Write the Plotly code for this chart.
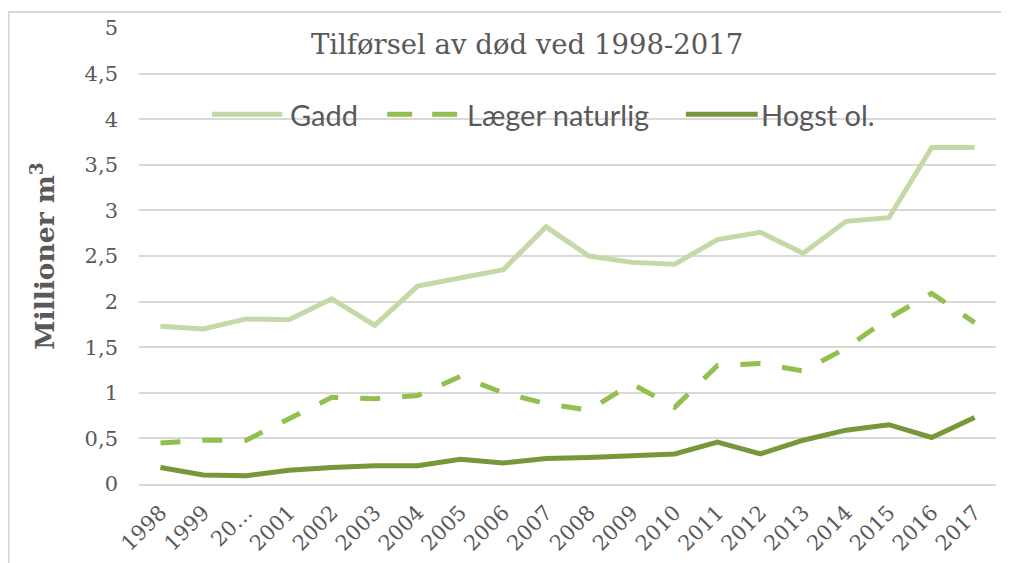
import plotly.graph_objects as go

years = ["1998", "1999", "20…", "2001", "2002", "2003", "2004", "2005", "2006", "2007",
         "2008", "2009", "2010", "2011", "2012", "2013", "2014", "2015", "2016", "2017"]

gadd = [1.73, 1.70, 1.81, 1.80, 2.03, 1.74, 2.17, 2.26, 2.35, 2.82,
        2.50, 2.43, 2.41, 2.68, 2.76, 2.53, 2.88, 2.92, 3.69, 3.69]

laeger = [0.45, 0.48, 0.48, 0.71, 0.95, 0.935, 0.97, 1.18, 1.00, 0.88,
          0.81, 1.10, 0.84, 1.30, 1.32, 1.24, 1.49, 1.82, 2.09, 1.77]

hogst = [0.18, 0.10, 0.09, 0.15, 0.18, 0.20, 0.20, 0.27, 0.23, 0.28,
         0.29, 0.31, 0.33, 0.46, 0.33, 0.48, 0.59, 0.65, 0.51, 0.73]

series_names = ["Gadd", "Læger naturlig", "Hogst ol."]
colors = ["#c4d9a6", "#92bf4f", "#76983b"]
dashes = ["solid", "20px,22px", "solid"]

SERIF = "DejaVu Serif"
SANS = "Lato"
TXT = "#595959"
GRID = "#d9d9d9"

fig = go.Figure()
for name, vals, col, dsh in zip(series_names, [gadd, laeger, hogst], colors, dashes):
    fig.add_trace(go.Scatter(x=years, y=vals, name=name, mode="lines", showlegend=False,
                             line=dict(color=col, width=5, dash=dsh)))

# legend drawn as layout decoration (long sample lines, as in the original)
leg_y = 0.811
leg_items = [
    (series_names[0], colors[0], "solid", 0.0851, 0.1673, 0.1742),
    (series_names[1], colors[1], "25px,20px", 0.2896, 0.3712, 0.3800),
    (series_names[2], colors[2], "solid", 0.6381, 0.7220, 0.7240),
]
shapes = [dict(type="rect", xref="paper", yref="paper", x0=-0.1521, x1=1.2, y0=-0.5, y1=1.0351,
               line=dict(color=GRID, width=2), fillcolor="rgba(0,0,0,0)", layer="below")]
annotations = []
for name, col, dsh, x0, x1, xt in leg_items:
    shapes.append(dict(type="line", xref="paper", yref="paper", x0=x0, x1=x1, y0=leg_y, y1=leg_y,
                       line=dict(color=col, width=5, dash=dsh)))
    annotations.append(dict(text=name, xref="paper", yref="paper", x=xt, y=leg_y,
                            xanchor="left", yanchor="middle", showarrow=False,
                            font=dict(family=SANS, size=29, color=TXT)))

fig.update_layout(
    width=1001, height=555,
    margin=dict(l=130.5, r=12.5, t=20, b=79),
    paper_bgcolor="white", plot_bgcolor="white",
    separators=",.",
    title=dict(text="Tilførsel av død ved 1998-2017", x=0.4528, xref="paper", xanchor="center",
               y=1 - 36 / 555, yref="container", yanchor="middle",
               font=dict(family=SERIF, size=27.5, color=TXT)),
    showlegend=False,
    xaxis=dict(type="category", range=[-0.5, 19.5], showgrid=False, showline=True,
               linecolor=GRID, linewidth=2, ticks="", tickangle=-45, ticklabelstandoff=6,
               tickfont=dict(family=SERIF, size=21, color=TXT), automargin=False),
    yaxis=dict(range=[0, 5], dtick=0.5, tick0=0, showgrid=True, gridcolor=GRID, gridwidth=2,
               zeroline=False, showline=False, ticks="", ticklabelstandoff=20,
               tickfont=dict(family=SERIF, size=21, color=TXT), automargin=False,
               title=dict(text="<b>Millioner m<sup>3</sup></b>", standoff=22,
                          font=dict(family=SERIF, size=26.5, color=TXT))),
    shapes=shapes,
    annotations=annotations,
)

fig.write_html("out.html")
